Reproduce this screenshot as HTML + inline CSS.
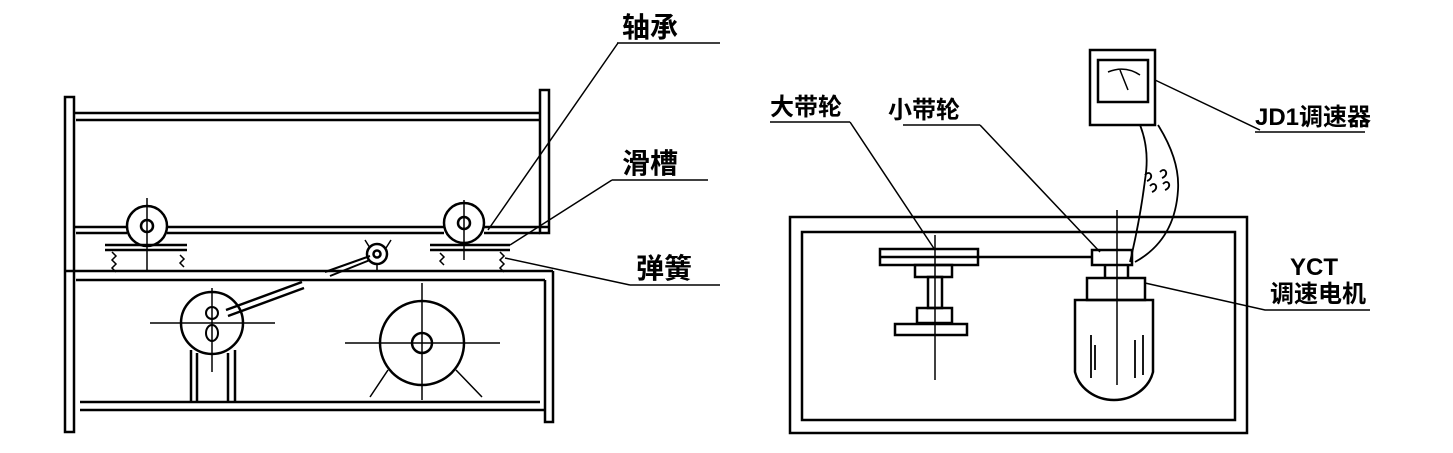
<!DOCTYPE html>
<html><head><meta charset="utf-8"><style>
html,body{margin:0;padding:0;background:#fff;}
svg{display:block}
text{font-family:"Liberation Sans","Noto Sans CJK SC",sans-serif;fill:#000;font-weight:bold}
</style></head><body>
<svg width="1453" height="453" viewBox="0 0 1453 453" xmlns="http://www.w3.org/2000/svg">
<g stroke="#000" stroke-width="2.5" fill="none">
<!-- LEFT DIAGRAM -->
<rect x="65" y="97" width="9" height="335"/>
<path d="M74 113 H540 M76 120 H540"/>
<path d="M74 227 H127 M167 227 H444 M484 227 H549"/>
<path d="M76 233 H127 M167 233 H444 M484 233 H540"/>
<rect x="540" y="90" width="9" height="143"/>
<circle cx="147" cy="226" r="20"/><circle cx="147" cy="226" r="6"/>
<path d="M147 198 V270" stroke-width="1.5"/>
<circle cx="464" cy="223" r="20"/><circle cx="464" cy="223" r="6"/>
<path d="M464 200 V260" stroke-width="1.5"/>
<path d="M105 245 H187 M105 250 H187 M430 245 H510 M430 250 H510"/>
<path d="M112 252 l4 4 -4 4 4 4 -4 4 4 4 M180 255 l4 4 -4 4 4 4 M440 253 l4 4 -4 4 4 4 M500 252 l4 4 -4 4 4 4 -4 4 4 4" stroke-width="1.5"/>
<path d="M66 271 H553 M76 280 H545"/>
<path d="M545 280 V422 H553 V271"/>
<path d="M80 402 H540 M80 410 H545"/>
<circle cx="212" cy="323" r="31"/>
<path d="M150 323 H275 M212 288 V372" stroke-width="1.5"/>
<circle cx="212" cy="313" r="6" stroke-width="2"/>
<ellipse cx="212" cy="333" rx="6" ry="8" stroke-width="2"/>
<path d="M191 350 V402 M197 353 V402 M228 353 V402 M235 350 V402"/>
<path d="M226 310 L302 282 M228 316 L304 288"/>
<path d="M325 272 L370 256 M330 276 L370 260" stroke-width="2"/>
<circle cx="377" cy="254" r="10"/><circle cx="377" cy="254" r="3.5"/>
<path d="M365 240 l5 8 M391 240 l-5 8 M377 264 V271" stroke-width="1.5"/>
<circle cx="422" cy="343" r="42"/><circle cx="422" cy="343" r="10"/>
<path d="M345 343 H500 M422 283 V400" stroke-width="1.5"/>
<path d="M388 370 L370 397 M456 370 L482 397" stroke-width="1.5"/>
<path d="M617 43 H720 M618 43 L488 230" stroke-width="1.5"/>
<path d="M612 180 H708 M612 180 L510 245" stroke-width="1.5"/>
<path d="M630 285 H720 M630 285 L505 258" stroke-width="1.5"/>

<!-- RIGHT DIAGRAM -->
<rect x="790" y="217" width="457" height="216"/>
<rect x="802" y="232" width="433" height="188"/>
<rect x="880" y="249" width="98" height="16"/>
<path d="M880 257 H978 M978 257 H1092"/>
<rect x="915" y="265" width="37" height="12"/>
<rect x="928" y="277" width="14" height="31"/>
<rect x="917" y="308" width="35" height="15"/>
<rect x="895" y="324" width="72" height="11"/>
<path d="M935 235 V380" stroke-width="1.5"/>
<rect x="1092" y="250" width="40" height="15"/>
<path d="M1105 265 V278 M1128 265 V278"/>
<rect x="1087" y="278" width="58" height="22"/>
<path d="M1075 300 H1153 V372 A40 36 0 0 1 1075 372 Z"/>
<path d="M1117 210 V385" stroke-width="1.5"/>
<path d="M1091 335 V378 M1095 345 V370 M1135 340 V378 M1143 335 V375" stroke-width="1.8"/>
<rect x="1090" y="50" width="65" height="75"/>
<rect x="1098" y="60" width="50" height="42"/>
<path d="M1108 72 Q1125 65 1140 75 M1120 70 L1128 90" stroke-width="1.5"/>
<path d="M1140 125 Q1150 150 1145 180 Q1140 220 1130 262 M1158 125 Q1180 160 1178 190 Q1175 240 1135 262" stroke-width="1.8"/>
<path d="M1145 175 c5 -6 10 3 2 6 M1160 172 c5 -6 10 3 2 6 M1150 186 c5 -6 10 3 2 6 M1163 184 c5 -6 10 3 2 6" stroke-width="1.8"/>
<path d="M770 122 H850 M850 122 L935 250" stroke-width="1.5"/>
<path d="M903 125 H980 M980 125 L1100 252" stroke-width="1.5"/>
<path d="M1155 80 L1260 130 M1255 132 H1365" stroke-width="1.5"/>
<path d="M1145 283 L1265 310 H1370" stroke-width="1.5"/>
</g>
<g font-size="28">
<text x="622" y="37">轴承</text>
<text x="622" y="173">滑槽</text>
<text x="636" y="278">弹簧</text>
<text x="770" y="115" font-size="24">大带轮</text>
<text x="888" y="118" font-size="24">小带轮</text>
<text x="1255" y="125" font-size="24">JD1调速器</text>
<text x="1290" y="275" font-size="24">YCT</text>
<text x="1270" y="302" font-size="24">调速电机</text>
</g>
</svg>
</body></html>
